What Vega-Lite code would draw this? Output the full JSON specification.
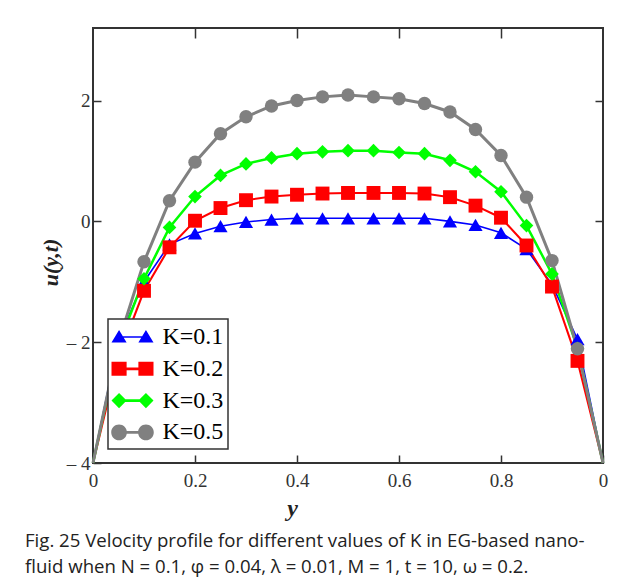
{
  "$schema": "https://vega.github.io/schema/vega-lite/v6.json",
  "width": 510,
  "height": 435,
  "autosize": {"type": "none"},
  "padding": {"left": 93, "top": 28, "right": 27, "bottom": 125},
  "background": "white",
  "title": {
    "text": ["Fig. 25 Velocity profile for different values of K in EG-based nano-", "fluid when N = 0.1, φ = 0.04, λ = 0.01, M = 1, t = 10, ω = 0.2."],
    "orient": "bottom",
    "anchor": "start",
    "frame": "group",
    "dx": -68,
    "font": "Open Sans",
    "fontSize": 18.6,
    "fontWeight": "normal",
    "color": "#222",
    "lineHeight": 26,
    "offset": 12,
    "baseline": "top"
  },
  "data": {
    "values": [
      {"K": "K=0.1", "p": 0, "u": -4}, {"K": "K=0.1", "p": 0.05, "u": -1.95}, {"K": "K=0.1", "p": 0.1, "u": -1.0}, {"K": "K=0.1", "p": 0.15, "u": -0.38}, {"K": "K=0.1", "p": 0.2, "u": -0.2}, {"K": "K=0.1", "p": 0.25, "u": -0.08}, {"K": "K=0.1", "p": 0.3, "u": -0.01}, {"K": "K=0.1", "p": 0.35, "u": 0.03}, {"K": "K=0.1", "p": 0.4, "u": 0.05}, {"K": "K=0.1", "p": 0.45, "u": 0.05}, {"K": "K=0.1", "p": 0.5, "u": 0.05}, {"K": "K=0.1", "p": 0.55, "u": 0.05}, {"K": "K=0.1", "p": 0.6, "u": 0.05}, {"K": "K=0.1", "p": 0.65, "u": 0.05}, {"K": "K=0.1", "p": 0.7, "u": 0.0}, {"K": "K=0.1", "p": 0.75, "u": -0.06}, {"K": "K=0.1", "p": 0.8, "u": -0.19}, {"K": "K=0.1", "p": 0.85, "u": -0.46}, {"K": "K=0.1", "p": 0.9, "u": -1.05}, {"K": "K=0.1", "p": 0.95, "u": -1.95}, {"K": "K=0.1", "p": 1, "u": -4},
      {"K": "K=0.2", "p": 0, "u": -4}, {"K": "K=0.2", "p": 0.05, "u": -2.25}, {"K": "K=0.2", "p": 0.1, "u": -1.15}, {"K": "K=0.2", "p": 0.15, "u": -0.43}, {"K": "K=0.2", "p": 0.2, "u": 0.01}, {"K": "K=0.2", "p": 0.25, "u": 0.22}, {"K": "K=0.2", "p": 0.3, "u": 0.35}, {"K": "K=0.2", "p": 0.35, "u": 0.41}, {"K": "K=0.2", "p": 0.4, "u": 0.44}, {"K": "K=0.2", "p": 0.45, "u": 0.46}, {"K": "K=0.2", "p": 0.5, "u": 0.47}, {"K": "K=0.2", "p": 0.55, "u": 0.47}, {"K": "K=0.2", "p": 0.6, "u": 0.47}, {"K": "K=0.2", "p": 0.65, "u": 0.46}, {"K": "K=0.2", "p": 0.7, "u": 0.4}, {"K": "K=0.2", "p": 0.75, "u": 0.26}, {"K": "K=0.2", "p": 0.8, "u": 0.06}, {"K": "K=0.2", "p": 0.85, "u": -0.4}, {"K": "K=0.2", "p": 0.9, "u": -1.08}, {"K": "K=0.2", "p": 0.95, "u": -2.31}, {"K": "K=0.2", "p": 1, "u": -4},
      {"K": "K=0.3", "p": 0, "u": -4}, {"K": "K=0.3", "p": 0.05, "u": -2.05}, {"K": "K=0.3", "p": 0.1, "u": -0.95}, {"K": "K=0.3", "p": 0.15, "u": -0.1}, {"K": "K=0.3", "p": 0.2, "u": 0.41}, {"K": "K=0.3", "p": 0.25, "u": 0.76}, {"K": "K=0.3", "p": 0.3, "u": 0.95}, {"K": "K=0.3", "p": 0.35, "u": 1.05}, {"K": "K=0.3", "p": 0.4, "u": 1.12}, {"K": "K=0.3", "p": 0.45, "u": 1.15}, {"K": "K=0.3", "p": 0.5, "u": 1.17}, {"K": "K=0.3", "p": 0.55, "u": 1.17}, {"K": "K=0.3", "p": 0.6, "u": 1.14}, {"K": "K=0.3", "p": 0.65, "u": 1.12}, {"K": "K=0.3", "p": 0.7, "u": 1.01}, {"K": "K=0.3", "p": 0.75, "u": 0.82}, {"K": "K=0.3", "p": 0.8, "u": 0.49}, {"K": "K=0.3", "p": 0.85, "u": -0.07}, {"K": "K=0.3", "p": 0.9, "u": -0.87}, {"K": "K=0.3", "p": 0.95, "u": -2.1}, {"K": "K=0.3", "p": 1, "u": -4},
      {"K": "K=0.5", "p": 0, "u": -4}, {"K": "K=0.5", "p": 0.05, "u": -2.0}, {"K": "K=0.5", "p": 0.1, "u": -0.67}, {"K": "K=0.5", "p": 0.15, "u": 0.34}, {"K": "K=0.5", "p": 0.2, "u": 0.98}, {"K": "K=0.5", "p": 0.25, "u": 1.45}, {"K": "K=0.5", "p": 0.3, "u": 1.73}, {"K": "K=0.5", "p": 0.35, "u": 1.91}, {"K": "K=0.5", "p": 0.4, "u": 2.0}, {"K": "K=0.5", "p": 0.45, "u": 2.06}, {"K": "K=0.5", "p": 0.5, "u": 2.09}, {"K": "K=0.5", "p": 0.55, "u": 2.06}, {"K": "K=0.5", "p": 0.6, "u": 2.03}, {"K": "K=0.5", "p": 0.65, "u": 1.95}, {"K": "K=0.5", "p": 0.7, "u": 1.81}, {"K": "K=0.5", "p": 0.75, "u": 1.52}, {"K": "K=0.5", "p": 0.8, "u": 1.09}, {"K": "K=0.5", "p": 0.85, "u": 0.4}, {"K": "K=0.5", "p": 0.9, "u": -0.65}, {"K": "K=0.5", "p": 0.95, "u": -2.11}, {"K": "K=0.5", "p": 1, "u": -4}
    ]
  },
  "layer": [
    {
      "mark": {"type": "line"},
      "encoding": {
        "x": {
          "field": "p", "type": "quantitative",
          "scale": {"domain": [0, 1], "nice": false, "zero": false},
          "axis": {
            "orient": "bottom",
            "values": [0, 0.2, 0.4, 0.6, 0.8, 1],
            "labelExpr": "datum.value === 0 || datum.value === 1 ? '0' : format(datum.value, '.1f')",
            "title": "y",
            "titleX": 199,
            "titleY": 45,
            "titleBaseline": "middle",
            "titleFontSize": 24,
            "titleFontStyle": "italic",
            "titleFontWeight": "bold",
            "tickSize": -8,
            "labelPadding": 16,
            "labelFlush": false,
            "labelOverlap": false
          }
        },
        "y": {
          "field": "u", "type": "quantitative",
          "scale": {"domain": [-4, 3.2], "nice": false, "zero": false},
          "axis": {
            "orient": "left",
            "values": [-4, -2, 0, 2],
            "labelExpr": "datum.value < 0 ? '– ' + format(-datum.value, 'd') : datum.label",
            "title": "u(y,t)",
            "titleX": -43,
            "titleY": 234,
            "titleAngle": -90,
            "titleBaseline": "middle",
            "titleFontSize": 22,
            "titleFontStyle": "italic",
            "titleFontWeight": "bold",
            "tickSize": -8,
            "labelPadding": 11,
            "labelFlush": false,
            "labelOverlap": false
          }
        },
        "color": {
          "field": "K", "type": "nominal",
          "scale": {"domain": ["K=0.1", "K=0.2", "K=0.3", "K=0.5"], "range": ["#0000ff", "#ff0000", "#00ff00", "#808080"]},
          "legend": null
        },
        "strokeWidth": {
          "field": "K", "type": "nominal",
          "scale": {"domain": ["K=0.1", "K=0.2", "K=0.3", "K=0.5"], "range": [1.6, 3, 3, 2.5]},
          "legend": null
        }
      }
    },
    {
      "transform": [{"filter": "datum.p > 0.01 && datum.p < 0.99"}],
      "mark": {"type": "point", "filled": true, "opacity": 1, "strokeWidth": 0},
      "encoding": {
        "x": {
          "field": "p", "type": "quantitative",
          "axis": {"orient": "top", "values": [0.2, 0.4, 0.6, 0.8], "labels": false, "title": null, "tickSize": -10}
        },
        "y": {
          "field": "u", "type": "quantitative",
          "axis": {"orient": "right", "values": [-2, 0, 2], "labels": false, "title": null, "tickSize": -8}
        },
        "color": {"field": "K", "type": "nominal", "legend": null},
        "shape": {
          "field": "K", "type": "nominal",
          "scale": {"domain": ["K=0.1", "K=0.2", "K=0.3", "K=0.5"], "range": ["triangle-up", "square", "diamond", "circle"]},
          "legend": null
        },
        "size": {
          "field": "K", "type": "nominal",
          "scale": {"domain": ["K=0.1", "K=0.2", "K=0.3", "K=0.5"], "range": [200, 180, 160, 220]},
          "legend": null
        }
      }
    },
    {
      "transform": [{"filter": "datum.p < 0"}],
      "mark": {"type": "point", "filled": true, "opacity": 1, "strokeWidth": 0},
      "encoding": {
        "x": {"field": "p", "type": "quantitative", "axis": null},
        "y": {"field": "u", "type": "quantitative", "axis": null},
        "fill": {
          "field": "K", "type": "nominal",
          "scale": {"domain": ["K=0.1", "K=0.2", "K=0.3", "K=0.5"], "range": ["#0000ff", "#ff0000", "#00ff00", "#808080"]},
          "legend": {
            "title": null,
            "orient": "bottom-left",
            "offset": 14.5,
            "padding": 4,
            "rowPadding": 5.8,
            "symbolSize": 784,
            "symbolOffset": 6.5,
            "labelOffset": 16,
            "labelFont": "Liberation Serif",
            "labelFontSize": 24,
            "labelColor": "black",
            "labelExpr": "datum.label + '  '",
            "strokeColor": "#333",
            "fillColor": "white",
            "symbolStrokeWidth": 0,
            "symbolOpacity": 1
          }
        },
        "shape": {
          "field": "K", "type": "nominal",
          "scale": {"domain": ["K=0.1", "K=0.2", "K=0.3", "K=0.5"], "range": [
            "M -1.5 0.4 L -0.96 -0.5 L -0.42 0.4 Z M 0.42 0.4 L 0.96 -0.5 L 1.5 0.4 Z M -0.96 -0.05 L 0.96 -0.05 L 0.96 0.05 L -0.96 0.05 Z",
            "M -1.5 -0.5 L -0.42 -0.5 L -0.42 0.5 L -1.5 0.5 Z M 0.42 -0.5 L 1.5 -0.5 L 1.5 0.5 L 0.42 0.5 Z M -0.96 -0.1 L 0.96 -0.1 L 0.96 0.1 L -0.96 0.1 Z",
            "M -1.5 0 L -0.96 -0.54 L -0.42 0 L -0.96 0.54 Z M 0.42 0 L 0.96 -0.54 L 1.5 0 L 0.96 0.54 Z M -0.96 -0.1 L 0.96 -0.1 L 0.96 0.1 L -0.96 0.1 Z",
            "M -0.4 0 A 0.56 0.56 0 1 1 -1.52 0 A 0.56 0.56 0 1 1 -0.4 0 Z M 1.52 0 A 0.56 0.56 0 1 1 0.4 0 A 0.56 0.56 0 1 1 1.52 0 Z M -0.96 -0.1 L 0.96 -0.1 L 0.96 0.1 L -0.96 0.1 Z"
          ]},
          "legend": {
            "title": null,
            "orient": "bottom-left",
            "offset": 14.5,
            "padding": 4,
            "rowPadding": 5.8,
            "symbolSize": 784,
            "symbolOffset": 6.5,
            "labelOffset": 16,
            "labelFont": "Liberation Serif",
            "labelFontSize": 24,
            "labelColor": "black",
            "labelExpr": "datum.label + '  '",
            "strokeColor": "#333",
            "fillColor": "white",
            "symbolStrokeWidth": 0,
            "symbolOpacity": 1
          }
        }
      }
    }
  ],
  "resolve": {
    "axis": {"x": "independent", "y": "independent"},
    "scale": {"shape": "independent", "fill": "independent"}
  },
  "config": {
    "view": {"stroke": "#333", "strokeWidth": 2},
    "axis": {
      "domain": false,
      "grid": false,
      "tickColor": "#333",
      "tickWidth": 1.5,
      "labelFont": "Liberation Serif",
      "labelFontSize": 19,
      "labelColor": "#333",
      "titleFont": "Liberation Serif",
      "titleColor": "#222"
    },
    "legend": {"strokeWidth": 1.5}
  }
}
